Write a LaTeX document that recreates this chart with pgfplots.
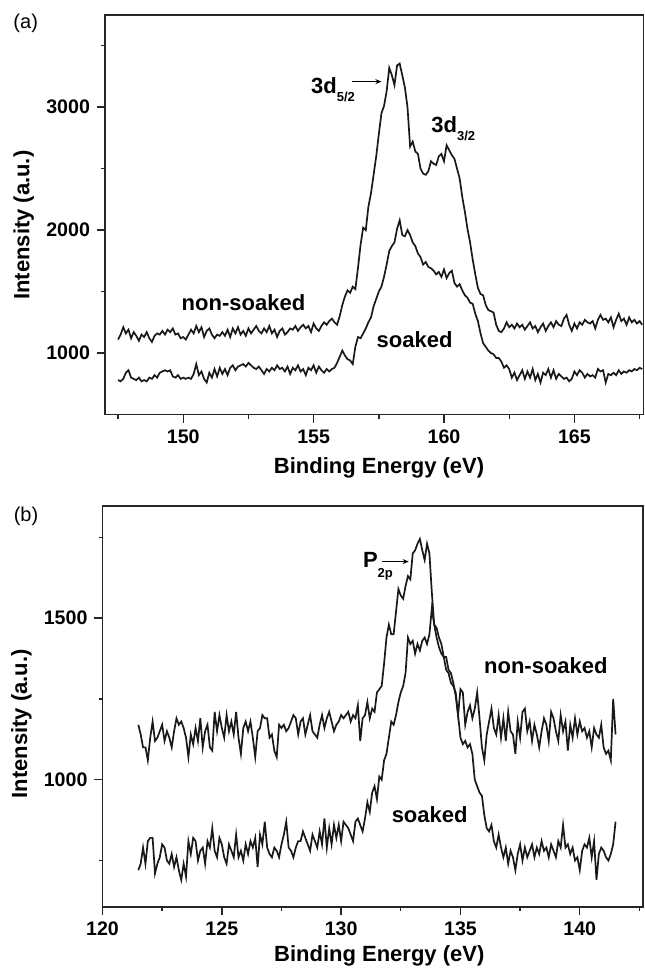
\documentclass[border=0pt]{standalone}
\usepackage{pgfplots}
\usepackage{pgfplotstable}
\pgfplotsset{compat=1.18}
\usepackage{fontspec}
\setmainfont{Liberation Sans}
\usetikzlibrary{arrows.meta}

\pgfplotstableread{
x y
147.5 1110
147.6 1150
147.7 1210
147.8 1160
147.9 1190
148.0 1120
148.1 1170
148.2 1140
148.3 1100
148.4 1150
148.5 1130
148.6 1170
148.7 1120
148.8 1090
148.9 1140
149.0 1160
149.1 1150
149.2 1180
149.3 1150
149.4 1190
149.5 1170
149.6 1200
149.7 1150
149.8 1160
149.9 1120
150.0 1130
150.1 1110
150.2 1150
150.3 1190
150.4 1160
150.5 1220
150.6 1170
150.7 1210
150.8 1130
150.9 1180
151.0 1200
151.1 1150
151.2 1120
151.3 1150
151.4 1140
151.5 1170
151.6 1140
151.7 1190
151.8 1130
151.9 1200
152.0 1160
152.1 1210
152.2 1150
152.3 1180
152.4 1140
152.5 1200
152.6 1160
152.7 1190
152.8 1220
152.9 1180
153.0 1160
153.1 1200
153.2 1170
153.3 1220
153.4 1160
153.5 1190
153.6 1130
153.7 1180
153.8 1200
153.9 1150
154.0 1170
154.1 1200
154.2 1190
154.3 1220
154.4 1180
154.5 1210
154.6 1230
154.7 1200
154.8 1220
154.9 1170
155.0 1240
155.1 1200
155.2 1180
155.3 1220
155.4 1250
155.5 1230
155.6 1260
155.7 1280
155.8 1250
155.9 1230
156.0 1300
156.1 1390
156.2 1460
156.3 1510
156.4 1490
156.5 1540
156.6 1520
156.7 1690
156.8 1880
156.9 2020
157.0 2000
157.1 2190
157.2 2300
157.3 2450
157.4 2600
157.5 2780
157.6 2950
157.7 3010
157.8 3130
157.9 3320
158.0 3260
158.1 3180
158.2 3340
158.3 3355
158.4 3260
158.5 3160
158.6 3000
158.7 2680
158.8 2720
158.9 2640
159.0 2620
159.1 2500
159.2 2460
159.3 2450
159.4 2480
159.5 2560
159.6 2540
159.7 2530
159.8 2600
159.9 2620
160.0 2560
160.1 2690
160.2 2650
160.3 2610
160.4 2580
160.5 2500
160.6 2420
160.7 2270
160.8 2150
160.9 2010
161.0 1900
161.1 1760
161.2 1640
161.3 1530
161.4 1480
161.5 1470
161.6 1390
161.7 1350
161.8 1340
161.9 1330
162.0 1230
162.1 1180
162.2 1170
162.3 1200
162.4 1250
162.5 1210
162.6 1230
162.7 1200
162.8 1240
162.9 1210
163.0 1230
163.1 1190
163.2 1220
163.3 1250
163.4 1200
163.5 1220
163.6 1170
163.7 1210
163.8 1240
163.9 1180
164.0 1220
164.1 1250
164.2 1210
164.3 1260
164.4 1230
164.5 1220
164.6 1280
164.7 1310
164.8 1230
164.9 1180
165.0 1240
165.1 1200
165.2 1250
165.3 1230
165.4 1270
165.5 1250
165.6 1240
165.7 1260
165.8 1200
165.9 1270
166.0 1310
166.1 1270
166.2 1280
166.3 1250
166.4 1290
166.5 1210
166.6 1270
166.7 1320
166.8 1260
166.9 1280
167.0 1230
167.1 1290
167.2 1250
167.3 1270
167.4 1240
167.5 1260
167.6 1230
}\aNon

\pgfplotstableread{
x y
147.5 780
147.6 770
147.7 790
147.8 840
147.9 860
148.0 800
148.1 790
148.2 780
148.3 800
148.4 770
148.5 780
148.6 770
148.7 800
148.8 790
148.9 820
149.0 800
149.1 840
149.2 850
149.3 860
149.4 850
149.5 860
149.6 810
149.7 800
149.8 820
149.9 790
150.0 800
150.1 790
150.2 800
150.3 790
150.4 830
150.5 910
150.6 820
150.7 850
150.8 790
150.9 760
151.0 840
151.1 800
151.2 870
151.3 810
151.4 880
151.5 830
151.6 870
151.7 820
151.8 880
151.9 900
152.0 860
152.1 890
152.2 900
152.3 910
152.4 890
152.5 920
152.6 900
152.7 880
152.8 870
152.9 890
153.0 860
153.1 830
153.2 870
153.3 850
153.4 880
153.5 860
153.6 900
153.7 870
153.8 880
153.9 850
154.0 890
154.1 830
154.2 880
154.3 860
154.4 900
154.5 850
154.6 870
154.7 820
154.8 880
154.9 860
155.0 900
155.1 840
155.2 890
155.3 860
155.4 840
155.5 870
155.6 850
155.7 870
155.8 880
155.9 920
156.0 970
156.1 1020
156.2 980
156.3 950
156.4 940
156.5 910
156.6 1050
156.7 1130
156.8 1120
156.9 1160
157.0 1200
157.1 1250
157.2 1290
157.3 1380
157.4 1440
157.5 1500
157.6 1540
157.7 1620
157.8 1720
157.9 1830
158.0 1870
158.1 1900
158.2 2010
158.3 2080
158.4 1960
158.5 1950
158.6 2000
158.7 1960
158.8 1900
158.9 1870
159.0 1810
159.1 1780
159.2 1720
159.3 1740
159.4 1700
159.5 1690
159.6 1670
159.7 1640
159.8 1660
159.9 1620
160.0 1680
160.1 1610
160.2 1650
160.3 1670
160.4 1570
160.5 1540
160.6 1560
160.7 1510
160.8 1470
160.9 1450
161.0 1410
161.1 1400
161.2 1320
161.3 1260
161.4 1160
161.5 1080
161.6 1050
161.7 1020
161.8 1000
161.9 990
162.0 960
162.1 960
162.2 930
162.3 880
162.4 900
162.5 870
162.6 800
162.7 840
162.8 780
162.9 820
163.0 860
163.1 790
163.2 850
163.3 800
163.4 870
163.5 780
163.6 830
163.7 760
163.8 840
163.9 820
164.0 870
164.1 800
164.2 860
164.3 790
164.4 830
164.5 810
164.6 790
164.7 800
164.8 770
164.9 790
165.0 850
165.1 820
165.2 860
165.3 840
165.4 800
165.5 830
165.6 810
165.7 820
165.8 800
165.9 870
166.0 850
166.1 860
166.2 760
166.3 830
166.4 820
166.5 840
166.6 820
166.7 860
166.8 830
166.9 850
167.0 840
167.1 860
167.2 850
167.3 870
167.4 860
167.5 880
167.6 870
}\aSoak

\pgfplotstableread{
x y
121.5 1170
121.6 1140
121.7 1100
121.8 1100
121.9 1060
122.0 1130
122.1 1180
122.2 1120
122.3 1130
122.4 1150
122.5 1170
122.6 1120
122.7 1150
122.8 1130
122.9 1100
123.0 1150
123.1 1190
123.2 1170
123.3 1180
123.4 1160
123.5 1130
123.6 1070
123.7 1140
123.8 1110
123.9 1160
124.0 1120
124.1 1190
124.2 1100
124.3 1150
124.4 1170
124.5 1100
124.6 1090
124.7 1210
124.8 1150
124.9 1200
125.0 1160
125.1 1130
125.2 1200
125.3 1150
125.4 1180
125.5 1140
125.6 1210
125.7 1130
125.8 1080
125.9 1160
126.0 1180
126.1 1150
126.2 1180
126.3 1130
126.4 1070
126.5 1150
126.6 1160
126.7 1200
126.8 1190
126.9 1190
127.0 1130
127.1 1140
127.2 1090
127.3 1070
127.4 1170
127.5 1160
127.6 1170
127.7 1150
127.8 1160
127.9 1180
128.0 1200
128.1 1190
128.2 1140
128.3 1180
128.4 1190
128.5 1140
128.6 1170
128.7 1200
128.8 1150
128.9 1140
129.0 1130
129.1 1170
129.2 1200
129.3 1160
129.4 1190
129.5 1210
129.6 1180
129.7 1150
129.8 1170
129.9 1180
130.0 1200
130.1 1190
130.2 1200
130.3 1210
130.4 1180
130.5 1200
130.6 1190
130.7 1230
130.8 1120
130.9 1190
131.0 1200
131.1 1240
131.2 1190
131.3 1220
131.4 1210
131.5 1270
131.6 1280
131.7 1290
131.8 1360
131.9 1440
132.0 1480
132.1 1450
132.2 1450
132.3 1520
132.4 1590
132.5 1570
132.6 1560
132.7 1600
132.8 1630
132.9 1620
133.0 1700
133.1 1710
133.2 1730
133.3 1745
133.4 1710
133.5 1680
133.6 1730
133.7 1700
133.8 1580
133.9 1480
134.0 1440
134.1 1410
134.2 1390
134.3 1380
134.4 1380
134.5 1340
134.6 1330
134.7 1300
134.8 1260
134.9 1200
135.0 1280
135.1 1270
135.2 1170
135.3 1210
135.4 1230
135.5 1190
135.6 1220
135.7 1270
135.8 1190
135.9 1100
136.0 1060
136.1 1140
136.2 1180
136.3 1220
136.4 1160
136.5 1140
136.6 1200
136.7 1130
136.8 1190
136.9 1120
137.0 1210
137.1 1150
137.2 1140
137.3 1080
137.4 1180
137.5 1130
137.6 1210
137.7 1220
137.8 1150
137.9 1180
138.0 1120
138.1 1170
138.2 1140
138.3 1100
138.4 1150
138.5 1190
138.6 1170
138.7 1120
138.8 1210
138.9 1190
139.0 1150
139.1 1120
139.2 1200
139.3 1150
139.4 1180
139.5 1090
139.6 1170
139.7 1130
139.8 1190
139.9 1140
140.0 1180
140.1 1150
140.2 1160
140.3 1130
140.4 1150
140.5 1100
140.6 1160
140.7 1140
140.8 1130
140.9 1170
141.0 1100
141.1 1080
141.2 1090
141.3 1060
141.4 1250
141.5 1140
}\bNon

\pgfplotstableread{
x y
121.5 720
121.6 740
121.7 790
121.8 740
121.9 810
122.0 820
122.1 820
122.2 710
122.3 740
122.4 760
122.5 800
122.6 790
122.7 750
122.8 740
122.9 770
123.0 730
123.1 760
123.2 720
123.3 690
123.4 740
123.5 700
123.6 810
123.7 770
123.8 820
123.9 810
124.0 750
124.1 780
124.2 790
124.3 740
124.4 810
124.5 790
124.6 850
124.7 780
124.8 760
124.9 820
125.0 800
125.1 760
125.2 740
125.3 800
125.4 780
125.5 760
125.6 830
125.7 760
125.8 780
125.9 750
126.0 800
126.1 770
126.2 810
126.3 790
126.4 820
126.5 730
126.6 830
126.7 800
126.8 870
126.9 790
127.0 770
127.1 760
127.2 790
127.3 780
127.4 760
127.5 800
127.6 830
127.7 870
127.8 790
127.9 780
128.0 760
128.1 790
128.2 810
128.3 810
128.4 840
128.5 820
128.6 800
128.7 780
128.8 830
128.9 810
129.0 790
129.1 840
129.2 800
129.3 880
129.4 790
129.5 850
129.6 800
129.7 860
129.8 820
129.9 860
130.0 810
130.1 870
130.2 860
130.3 850
130.4 830
130.5 810
130.6 870
130.7 880
130.8 860
130.9 840
131.0 880
131.1 930
131.2 900
131.3 960
131.4 980
131.5 940
131.6 1010
131.7 1000
131.8 1060
131.9 1080
132.0 1130
132.1 1180
132.2 1170
132.3 1200
132.4 1240
132.5 1270
132.6 1290
132.7 1330
132.8 1440
132.9 1420
133.0 1430
133.1 1390
133.2 1420
133.3 1400
133.4 1430
133.5 1440
133.6 1420
133.7 1450
133.8 1530
133.9 1480
134.0 1470
134.1 1440
134.2 1420
134.3 1380
134.4 1340
134.5 1330
134.6 1300
134.7 1290
134.8 1270
134.9 1200
135.0 1130
135.1 1110
135.2 1120
135.3 1100
135.4 1110
135.5 1080
135.6 1000
135.7 980
135.8 960
135.9 950
136.0 890
136.1 850
136.2 840
136.3 860
136.4 810
136.5 790
136.6 830
136.7 790
136.8 760
136.9 790
137.0 740
137.1 780
137.2 760
137.3 720
137.4 770
137.5 800
137.6 750
137.7 790
137.8 760
137.9 780
138.0 800
138.1 760
138.2 790
138.3 770
138.4 810
138.5 780
138.6 790
138.7 760
138.8 800
138.9 780
139.0 760
139.1 810
139.2 790
139.3 860
139.4 790
139.5 800
139.6 770
139.7 790
139.8 750
139.9 760
140.0 720
140.1 780
140.2 800
140.3 790
140.4 820
140.5 760
140.6 810
140.7 690
140.8 770
140.9 790
141.0 780
141.1 760
141.2 750
141.3 770
141.4 800
141.5 870
}\bSoak

\newcommand{\subA}[1]{\raisebox{-4pt}{\fontsize{6.5}{7}\selectfont #1}}
\newcommand{\subB}[1]{\raisebox{-5pt}{\fontsize{6.5}{7}\selectfont #1}}

\pgfplotsset{
  xpsstyle/.style={
    scale only axis,
    axis line style={line width=0.8pt, black!85},
    tick style={line width=0.7pt, black!85},
    tick align=outside,
    major tick length=4pt,
    minor tick length=2pt,
    xtick pos=bottom, ytick pos=left,
    /pgf/number format/assume math mode=true,
    /pgf/number format/1000 sep={},
    ticklabel style={font=\bfseries\fontsize{9.8}{11}\selectfont},
    label style={font=\bfseries\fontsize{11}{12}\selectfont},
    every axis plot/.append style={line width=0.85pt, black!90},
    clip=false,
  }
}

\begin{document}
\begin{tikzpicture}
\path[use as bounding box] (0,0) rectangle (322pt,-486pt);

% panel (a)
\begin{axis}[
  xpsstyle,
  at={(52.5pt,-207.25pt)}, anchor=south west,
  width=269.25pt, height=199.75pt,
  xmin=147, xmax=167.65, ymin=500, ymax=3750,
  xtick={150,155,160,165}, minor xtick={147.5,152.5,157.5,162.5,167.5},
  ytick={1000,2000,3000}, minor ytick={1500,2500,3500},
  xlabel={Binding Energy (eV)}, ylabel={Intensity (a.u.)},
  x label style={at={(axis description cs:0.509,-0.134)}, anchor=center},
  y label style={at={(axis description cs:-0.151,0.474)}, anchor=center, rotate=0},
]
\addplot[no marks] table[x=x,y=y] {\aNon};
\addplot[no marks] table[x=x,y=y] {\aSoak};
\node[anchor=base, font=\bfseries\fontsize{11}{12}\selectfont] at (axis cs:152.31,1349) {non-soaked};
\node[anchor=base, font=\bfseries\fontsize{11}{12}\selectfont] at (axis cs:158.87,1041) {soaked};
\node[anchor=base west, inner sep=0pt, font=\bfseries\fontsize{11}{12}\selectfont] at (axis cs:154.89,3113) {3d\subA{5/2}};
\node[anchor=base west, inner sep=0pt, font=\bfseries\fontsize{11}{12}\selectfont] at (axis cs:159.5,2796) {3d\subA{3/2}};
\draw[-{Stealth[length=3pt,width=2.5pt]}, line width=0.5pt] (axis cs:156.49,3208) -- (axis cs:157.6,3208);
\end{axis}
\node[font=\fontsize{10}{12}\selectfont] at (12.85pt,-11.75pt) {(a)};

% panel (b)
\begin{axis}[
  xpsstyle,
  at={(51.25pt,-453.35pt)}, anchor=south west,
  width=270.25pt, height=200.35pt,
  xmin=120, xmax=142.65, ymin=607, ymax=1847,
  xtick={120,125,130,135,140}, minor xtick={122.5,127.5,132.5,137.5,142.5},
  ytick={1000,1500}, minor ytick={750,1250,1750},
  xlabel={Binding Energy (eV)}, ylabel={Intensity (a.u.)},
  x label style={at={(axis description cs:0.512,-0.123)}, anchor=center},
  y label style={at={(axis description cs:-0.150,0.456)}, anchor=center, rotate=0},
]
\addplot[no marks] table[x=x,y=y] {\bNon};
\addplot[no marks] table[x=x,y=y] {\bSoak};
\node[anchor=base, font=\bfseries\fontsize{11}{12}\selectfont] at (axis cs:138.58,1328) {non-soaked};
\node[anchor=base, font=\bfseries\fontsize{11}{12}\selectfont] at (axis cs:133.71,869) {soaked};
\node[anchor=base west, inner sep=0pt, font=\bfseries\fontsize{11}{12}\selectfont] at (axis cs:130.9,1658) {P\subB{2p}};
\draw[-{Stealth[length=3pt,width=2.5pt]}, line width=0.5pt] (axis cs:131.73,1675) -- (axis cs:132.83,1675);
\end{axis}
\node[font=\fontsize{10}{12}\selectfont] at (13pt,-258pt) {(b)};
\end{tikzpicture}
\end{document}
